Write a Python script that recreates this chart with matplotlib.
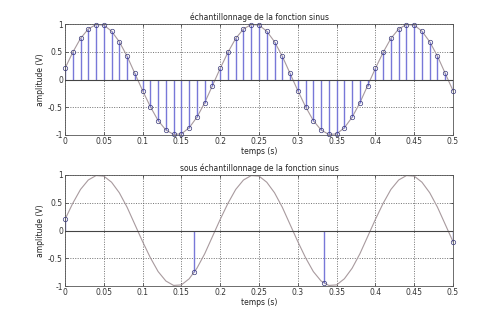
import matplotlib
matplotlib.use('Agg')
from matplotlib import pyplot as plt

# samples every 0.01 s
t = [i / 100 for i in range(51)]
period = [0.20, 0.49, 0.74, 0.91, 0.99, 0.98, 0.87, 0.68, 0.42, 0.11,
          -0.20, -0.49, -0.74, -0.91, -0.99, -0.98, -0.87, -0.68, -0.42, -0.11]
y = (period * 3)[:51]

# under-sampled points (bottom plot)
t_sub = [0, 1 / 6, 1 / 3, 0.5]
y_sub = [0.20, -0.75, -0.95, -0.20]

xticks = [0, 0.05, 0.1, 0.15, 0.2, 0.25, 0.3, 0.35, 0.4, 0.45, 0.5]
xticklabels = ['0', '0.05', '0.1', '0.15', '0.2', '0.25', '0.3', '0.35', '0.4', '0.45', '0.5']
yticks = [-1, -0.5, 0, 0.5, 1]
yticklabels = ['-1', '-0.5', '0', '0.5', '1']

curve_color = '#a89a9e'
stem_color = '#7878d8'
marker_color = '#3a3a7a'
fs = 5.5

fig = plt.figure(figsize=(5, 3.21), dpi=100)
ax1 = fig.add_axes([65 / 500, 1 - 135 / 321, 388 / 500, 111 / 321])
ax2 = fig.add_axes([65 / 500, 1 - 286 / 321, 388 / 500, 111 / 321])


def style(ax, title):
    ax.set_axisbelow(True)
    ax.set_xlim(0, 0.5)
    ax.set_ylim(-1, 1)
    ax.set_xticks(xticks)
    ax.set_xticklabels(xticklabels)
    ax.set_yticks(yticks)
    ax.set_yticklabels(yticklabels)
    ax.tick_params(labelsize=fs, length=2, width=0.5, direction='in', pad=1.5,
                   colors='#333333', top=True, right=True)
    ax.grid(True, linestyle=(0, (1.5, 2)), color='#444444', linewidth=0.5, zorder=0)
    for s in ax.spines.values():
        s.set_linewidth(0.6)
        s.set_color('#555555')
    ax.set_title(title, fontsize=fs, pad=3, color='#222222')
    ax.set_xlabel('temps (s)', fontsize=fs, labelpad=1, color='#222222')
    ax.set_ylabel('amplitude (V)', fontsize=fs, labelpad=2, color='#222222')


ax1.plot(t, y, color=curve_color, linewidth=0.8, zorder=2)
ax1.vlines(t, 0, y, color=stem_color, linewidth=1.0, zorder=2, snap=True)
ax1.axhline(0, color='#444444', linewidth=0.8, zorder=3)
ax1.plot(t, y, 'o', markersize=3.2, markerfacecolor='none',
         markeredgecolor=marker_color, markeredgewidth=0.5, zorder=4, clip_on=False)
style(ax1, 'échantillonnage de la fonction sinus')

ax2.plot(t, y, color=curve_color, linewidth=0.8, zorder=2)
ax2.vlines(t_sub, 0, y_sub, color=stem_color, linewidth=1.0, zorder=2, snap=True)
ax2.axhline(0, color='#444444', linewidth=0.8, zorder=3)
ax2.plot(t_sub, y_sub, 'o', markersize=3.2, markerfacecolor='none',
         markeredgecolor=marker_color, markeredgewidth=0.5, zorder=4, clip_on=False)
style(ax2, 'sous échantillonnage de la fonction sinus')

fig.savefig('out.png', dpi=100)
